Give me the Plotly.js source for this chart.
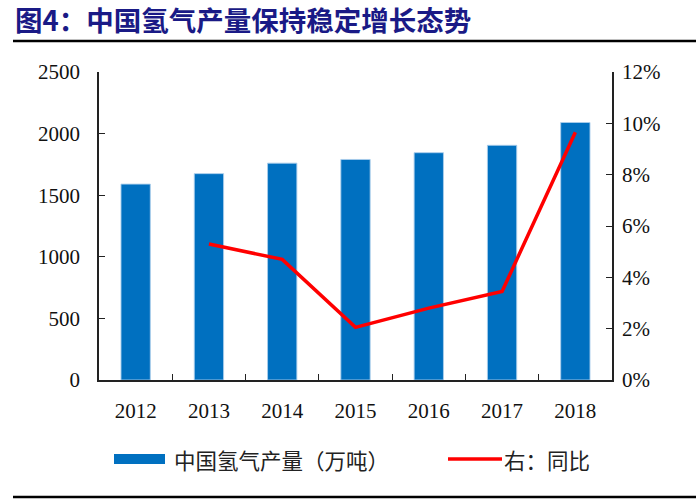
<!DOCTYPE html>
<html>
<head>
<meta charset="utf-8">
<script src="https://cdn.plot.ly/plotly-3.0.1.min.js"></script>
<style>
  html, body { margin: 0; padding: 0; background: #fff; }
  #chart { width: 700px; height: 502px; }
</style>
</head>
<body>
<div id="chart"></div>
<script>
// ── Data ──
const years = ['2012', '2013', '2014', '2015', '2016', '2017', '2018'];
const output = [1590, 1675, 1760, 1790, 1845, 1905, 2090];   // 万吨
const yoyYears = ['2013', '2014', '2015', '2016', '2017', '2018'];
const yoy = [5.3, 4.7, 2.05, 2.8, 3.45, 9.65];                // %

const leftTicks = [0, 500, 1000, 1500, 2000, 2500];
const rightTicks = [0, 2, 4, 6, 8, 10, 12];
const rightTickText = rightTicks.map(v => v + '%');

const barName = '中国氢气产量（万吨）';
const lineName = '右：同比';

// ── Layout helpers ──
const W = 700, H = 502;
const M = { l: 99, r: 88, t: 72, b: 122 };
const plotW = W - M.l - M.r, plotH = H - M.t - M.b;
const px = x => (x - M.l) / plotW;          // page x -> paper x
const py = y => (H - M.b - y) / plotH;      // page y -> paper y

const serif = '"Liberation Serif", "Times New Roman", serif';
const cjk = '"Noto Sans CJK SC", sans-serif';
const axisColor = '#222';
const barColor = '#0070C0';
const lineColor = '#FF0000';

const traces = [
    {
        x: years,
        y: output,
        type: 'bar',
        name: barName,
        marker: {
            color: barColor,
            line: { color: 'rgba(170,205,235,0.9)', width: 1 },
        },
    },
    {
        x: yoyYears,
        y: yoy,
        type: 'scatter',
        mode: 'lines',
        name: lineName,
        yaxis: 'y2',
        line: { color: lineColor, width: 3.5 },
    },
];

const tickFont = { family: serif, size: 21, color: '#111' };

const layout = {
    width: W,
    height: H,
    margin: M,
    paper_bgcolor: '#fff',
    plot_bgcolor: '#fff',
    bargap: 0.6,
    showlegend: false,
    title: {
        text: '<b>图4：中国氢气产量保持稳定增长态势</b>',
        font: { family: cjk, size: 27.5, color: '#1a1a86' },
        xref: 'container', yref: 'container',
        x: 15 / W, xanchor: 'left',
        y: 1 - 21 / H, yanchor: 'middle',
    },
    xaxis: {
        type: 'category',
        range: [-0.5, 6.5],
        showline: true, linecolor: axisColor, linewidth: 1.5,
        ticks: 'inside', tickson: 'boundaries', ticklen: 6, tickcolor: axisColor,
        tickfont: tickFont,
        ticklabelstandoff: 11,
        showgrid: false, zeroline: false,
    },
    yaxis: {
        range: [0, 2500],
        tickvals: leftTicks,
        showline: true, linecolor: axisColor, linewidth: 1.5,
        ticks: 'inside', ticklen: 6, tickcolor: axisColor,
        tickfont: tickFont,
        ticklabelstandoff: 13,
        showgrid: false, zeroline: false,
    },
    yaxis2: {
        overlaying: 'y',
        side: 'right',
        range: [0, 12],
        tickmode: 'array',
        tickvals: rightTicks,
        ticktext: rightTickText,
        showline: true, linecolor: axisColor, linewidth: 1.5,
        ticks: 'inside', ticklen: 6, tickcolor: axisColor,
        tickfont: tickFont,
        ticklabelstandoff: 4,
        showgrid: false, zeroline: false,
    },
    // legend drawn by hand so the swatches match the original's long keys
    shapes: [
        {
            type: 'rect', xref: 'paper', yref: 'paper',
            x0: px(114), x1: px(165), y0: py(464), y1: py(454),
            fillcolor: barColor, line: { width: 0 },
        },
        {
            type: 'line', xref: 'paper', yref: 'paper',
            x0: px(448), x1: px(502), y0: py(459), y1: py(459),
            line: { color: lineColor, width: 3.5 },
        },
        {   // rule under the title
            type: 'line', xref: 'paper', yref: 'paper',
            x0: px(13), x1: px(696), y0: py(41), y1: py(41),
            line: { color: '#000', width: 2.5 },
        },
        {   // rule at the bottom
            type: 'line', xref: 'paper', yref: 'paper',
            x0: px(13), x1: px(696), y0: py(497), y1: py(497),
            line: { color: '#000', width: 2.5 },
        },
    ],
    annotations: [
        {
            text: barName, xref: 'paper', yref: 'paper',
            x: px(172), y: py(459), xanchor: 'left', yanchor: 'middle',
            showarrow: false,
            font: { family: cjk, size: 21.5, color: '#222' },
        },
        {
            text: lineName, xref: 'paper', yref: 'paper',
            x: px(502), y: py(459), xanchor: 'left', yanchor: 'middle',
            showarrow: false,
            font: { family: cjk, size: 21.5, color: '#222' },
        },
    ],
};

Plotly.newPlot('chart', traces, layout, { displayModeBar: false, responsive: false });
</script>
</body>
</html>
